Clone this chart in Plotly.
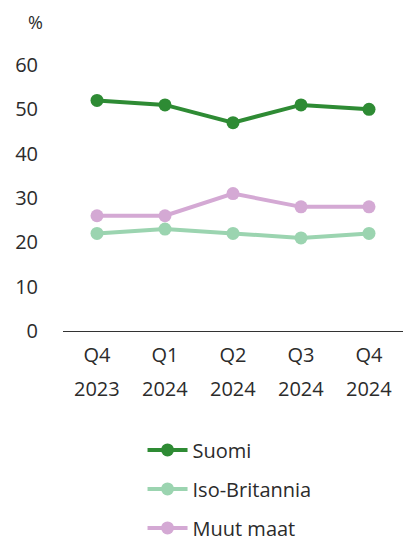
import plotly.graph_objects as go

quarters = ["Q4", "Q1", "Q2", "Q3", "Q4"]
years = ["2023", "2024", "2024", "2024", "2024"]
categories = [f"{q} {y}" for q, y in zip(quarters, years)]
suomi = [52, 51, 47, 51, 50]
iso_britannia = [22, 23, 22, 21, 22]
muut_maat = [26, 26, 31, 28, 28]

series = [
    ("Suomi", suomi, "#2e8b34"),
    ("Iso-Britannia", iso_britannia, "#9bd4b0"),
    ("Muut maat", muut_maat, "#d4a9d4"),
]

FONT = "Open Sans, Noto Sans, sans-serif"
TXT = "#2b2b2b"
TOP, BOTTOM = 65, 331
PH = BOTTOM - TOP

fig = go.Figure()
for i, (name, vals, col) in enumerate(series):
    fig.add_trace(go.Scatter(
        x=categories, y=vals, name=name, mode="lines+markers",
        line=dict(color=col, width=4),
        marker=dict(color=col, size=13),
        legendgroup=f"g{i}",
    ))

annotations = [dict(
    text="%", xref="paper", yref="paper",
    x=(35 - 63) / 340, y=(BOTTOM - 22) / PH, xanchor="center", yanchor="middle",
    showarrow=False, font=dict(size=18, color=TXT),
)]
for c, y in zip(categories, years):
    annotations.append(dict(
        text=y, x=c, xref="x", yref="paper", y=(BOTTOM - 388) / PH,
        xanchor="center", yanchor="middle", showarrow=False,
        font=dict(size=20, color=TXT),
    ))

fig.update_layout(
    width=404, height=540,
    margin=dict(l=63, r=1, t=TOP, b=540 - BOTTOM, autoexpand=False),
    paper_bgcolor="white", plot_bgcolor="white",
    font=dict(family=FONT, size=20, color=TXT),
    showlegend=True,
    legend=dict(
        orientation="v", xref="container", yref="container",
        x=0.3528, y=0.2030, xanchor="left", yanchor="top",
        tracegroupgap=10, font=dict(size=20, color=TXT),
        itemwidth=40,
    ),
    xaxis=dict(
        type="category", categoryarray=categories,
        tickvals=categories, ticktext=quarters,
        showgrid=False, showline=True, linecolor="#333333", linewidth=1,
        ticks="outside", ticklen=6, tickcolor="rgba(0,0,0,0)",
        tickfont=dict(size=20, color=TXT), tickangle=0,
        range=[-0.5, 4.5], fixedrange=True,
    ),
    yaxis=dict(
        range=[0, 60], dtick=10, showgrid=False, showline=False, zeroline=False,
        ticks="outside", ticklen=20, tickcolor="rgba(0,0,0,0)",
        tickfont=dict(size=20, color=TXT), fixedrange=True,
    ),
    annotations=annotations,
)

fig.write_html("out.html", config={"displayModeBar": False},
               post_script="document.body.style.margin='0';")
